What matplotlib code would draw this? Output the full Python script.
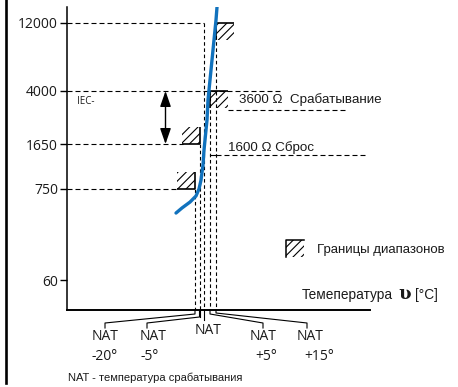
import numpy as np
import matplotlib
matplotlib.use("Agg")
import matplotlib.pyplot as plt
from matplotlib.patches import Rectangle
from matplotlib.lines import Line2D
import matplotlib.transforms as mtransforms

# ---------------- data ----------------
r_ticks = [60, 750, 1650, 4000, 12000]
tick_labels = ["60", "750", "1650", "4000", "12000"]

# PTC characteristic (schematic temperature position, resistance in ohm)
curve_x = [109, 115, 123, 129, 132, 134, 136, 137, 138, 140, 141, 143, 145, 147, 149, 150]
curve_r = [385, 443, 522, 618, 750, 877, 1140, 1483, 1763, 2460, 3445, 4775, 6590, 9120, 12590, 15500]

# NAT marks (schematic temperature position) and labels
nat_x = [128, 132.5, 137, 143, 149]
nat_temps = ["-20°", "-5°", "", "+5°", "+15°"]
nat_top_r = [750, 1650, 12000, 4000, 12000]

trip_r = 3600
reset_r = 1600
trip_label = "3600 Ω  Срабатывание"
reset_label = "1600 Ω Сброс"

# ---------------- schematic (non-uniform) resistance scale ----------------
LOG_ANCH = np.concatenate([[0.0], np.log10(r_ticks), [6.0]])
POS_ANCH = np.array([-117.5, 30, 121, 166, 219, 287, 561], dtype=float)


def fwd(r):
    r = np.asarray(r, dtype=float)
    return np.interp(np.log10(np.clip(r, 1e-9, None)), LOG_ANCH, POS_ANCH)


def inv(p):
    p = np.asarray(p, dtype=float)
    return 10 ** np.interp(p, POS_ANCH, LOG_ANCH)


def shift(r, d):
    return float(inv(fwd(r) + d))


plt.rcParams['hatch.linewidth'] = 0.8
TXT = '#1a1a1a'

fig = plt.figure(figsize=(4.58, 3.87), dpi=100)
ax = fig.add_axes([67 / 458, (387 - 310) / 387, 303 / 458, 303 / 387])
ax.set_yscale('function', functions=(fwd, inv))
ax.set_xlim(0, 303)
ax.set_ylim(float(inv(0)), float(inv(303)))
ax.set_yticks(r_ticks, tick_labels)
ax.yaxis.set_minor_locator(matplotlib.ticker.NullLocator())
ax.set_xticks([])
for s in ['top', 'right']:
    ax.spines[s].set_visible(False)
ax.spines['left'].set_linewidth(1.1)
ax.spines['bottom'].set_linewidth(1.4)
ax.tick_params(axis='y', direction='out', length=5, width=1, pad=1.5, labelsize=10)
for t in ax.get_yticklabels():
    t.set_fontfamily('Open Sans')
    t.set_color(TXT)
ax.patch.set_alpha(0)

hdash = (0, (4.5, 2.7))
vdash = (0, (3.2, 2.4))
lwd = 0.8

# horizontal guide lines from the axis
h_ends = {750: 111, 1650: 116, 4000: 213, 12000: 137}
for r, xe in h_ends.items():
    ax.plot([0, xe], [r, r], ls=hdash, lw=lwd, color='k', zorder=2)

# vertical NAT guide lines
ybot = float(inv(0))
for x, rt in zip(nat_x, nat_top_r):
    ax.plot([x, x], [rt, ybot], ls=vdash, lw=lwd, color='k', zorder=2)

# hatched tolerance boxes
bw, bh = 18, 17
boxes = [  # (x edge, resistance, direction x, direction y)
    (nat_x[4], 12000, +1, -1),
    (nat_x[3], 4000, +1, -1),
    (nat_x[1], 1650, -1, +1),
    (nat_x[0], 750, -1, +1),
]
for xe, r, dx, dy in boxes:
    r2 = shift(r, dy * bh)
    x0 = min(xe, xe + dx * bw)
    y0, y1 = min(r, r2), max(r, r2)
    ax.add_patch(Rectangle((x0, y0), bw, y1 - y0, fill=False, edgecolor='k',
                           lw=0, hatch='////', zorder=3))
    ax.plot([xe, xe + dx * bw], [r, r], color='k', lw=1.2, zorder=4,
            solid_capstyle='butt')
    ax.plot([xe, xe], [r, r2], color='k', lw=1.2, zorder=4, solid_capstyle='butt')

# characteristic curve
ax.plot(curve_x, curve_r, color='#1172bd', lw=2.4, solid_capstyle='round',
        solid_joinstyle='round', zorder=5)

# double arrow (IEC range)
ax.annotate('', xy=(98.5, 1650), xytext=(98.5, 4000),
            arrowprops=dict(arrowstyle='<|-|>,head_length=0.95,head_width=0.33',
                            mutation_scale=10, color='k', lw=1.0,
                            shrinkA=0, shrinkB=0))
ax.text(10, 3380, 'IEC-', fontsize=7, family='Open Sans', va='center', ha='left', color=TXT)

# trip / reset labels
ax.text(172, shift(trip_r, -2.7), trip_label, fontsize=9.6, family='Liberation Sans',
        va='center', ha='left', color=TXT)
ax.plot([161, 280], [shift(trip_r, -12.7)] * 2, ls=hdash, lw=lwd, color='k')
ax.text(161, shift(reset_r, -1.3), reset_label, fontsize=9.6, family='Liberation Sans',
        va='center', ha='left', color=TXT)
yr = shift(reset_r, -9.3)
ax.plot([nat_x[3], nat_x[4]], [yr, yr], color='k', lw=lwd)
ax.plot([nat_x[4], 301], [yr, yr], ls=hdash, lw=lwd, color='k')

# legend
ax.add_patch(Rectangle((0.723, 0.175), 0.0594, 0.056, transform=ax.transAxes,
                       fill=False, edgecolor='k', lw=0, hatch='////', clip_on=False))
ax.plot([0.723, 0.723, 0.782], [0.175, 0.231, 0.231], transform=ax.transAxes,
        color='k', lw=1.1, clip_on=False)
ax.text(0.825, 0.198, 'Границы диапазонов', transform=ax.transAxes, fontsize=9.5,
        family='Liberation Sans', va='center', ha='left', color=TXT)

# axis label (with a larger temperature symbol)
t1 = ax.text(0.776, 0.0495, 'Темепература', transform=ax.transAxes, fontsize=9.8,
             family='Liberation Sans', va='center', ha='left', color=TXT)
t2 = ax.annotate('ʋ', xy=(1, 0.5), xycoords=t1, xytext=(3.5, 0.5),
                 textcoords='offset points', fontsize=13, family='DejaVu Serif',
                 fontweight='bold', va='center', ha='left', color=TXT)
ax.annotate('[°C]', xy=(1, 0.5), xycoords=t1, xytext=(15.5, 0),
            textcoords='offset points', fontsize=9.8, family='Liberation Sans',
            va='center', ha='left', color=TXT)

# NAT connectors and labels below the axis
trans = mtransforms.blended_transform_factory(ax.transData, ax.transAxes)
H = 303.0
label_x = [38, 80, 137, 196, 240]
text_x = [38, 86, 141, 196.5, 243]
deg_x = [38, 83, None, 199, 252]
drop1 = [4, 7, 10, 4, 3]
for i, x in enumerate(nat_x):
    if i == 2:
        ax.plot([x, x], [0, -10 / H], transform=trans, color='k', lw=0.8, clip_on=False)
        ax.plot([nat_x[1], nat_x[1]], [0, -7 / H], transform=trans, color='k', lw=0.8, clip_on=False)
        ax.text(text_x[i], -20 / H, 'NAT', transform=trans, ha='center', va='center',
                fontsize=10, family='Open Sans', color=TXT)
        continue
    xs = [x, x, label_x[i], label_x[i]]
    ys = [0, -drop1[i] / H, -13 / H, -18 / H]
    ax.plot(xs, ys, transform=trans, color='k', lw=0.8, clip_on=False)
    ax.text(text_x[i], -27 / H, 'NAT', transform=trans, ha='center', va='center',
            fontsize=10, family='Open Sans', color=TXT)
    ax.text(deg_x[i], -47 / H, nat_temps[i], transform=trans, ha='center', va='center',
            fontsize=10, family='Open Sans', color=TXT)

fig.text(68 / 458, 1 - 378 / 387, 'NAT - температура срабатывания', fontsize=8,
         family='Liberation Sans', va='center', ha='left', color=TXT)

# left frame bar
fig.add_artist(Line2D([6.3 / 458] * 2, [1, 1 - 383 / 387], transform=fig.transFigure,
                      color='k', lw=1.9))

fig.savefig('out.png', dpi=100)
